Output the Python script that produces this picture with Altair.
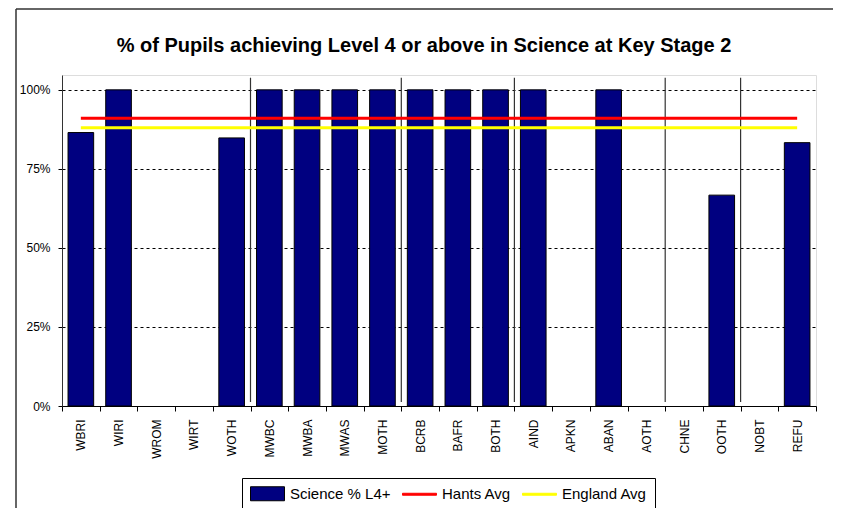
import altair as alt
import pandas as pd

categories = ["WBRI", "WIRI", "WROM", "WIRT", "WOTH", "MWBC", "MWBA", "MWAS", "MOTH",
              "BCRB", "BAFR", "BOTH", "AIND", "APKN", "ABAN", "AOTH", "CHNE", "OOTH",
              "NOBT", "REFU"]
science = [0.865, 1.0, 0.0, 0.0, 0.848, 1.0, 1.0, 1.0, 1.0,
           1.0, 1.0, 1.0, 1.0, 0.0, 1.0, 0.0, 0.0, 0.667,
           0.0, 0.833]
hants_avg = 0.91
england_avg = 0.88
group_starts = ["MWBC", "BCRB", "AIND", "CHNE", "NOBT"]
series_names = ["Science % L4+", "Hants Avg", "England Avg"]
tick_values = [0, 0.25, 0.5, 0.75, 1.0]

FONT = "Liberation Sans"

bars_df = pd.DataFrame({"cat": categories, "value": science})
avg_df = pd.DataFrame({
    "cat": categories * 2,
    "value": [hants_avg] * len(categories) + [england_avg] * len(categories),
    "series": ["Hants Avg"] * len(categories) + ["England Avg"] * len(categories),
})
sep_df = pd.DataFrame({"cat": group_starts, "lo": [0.013] * len(group_starts), "hi": [1.038] * len(group_starts)})
legend_df = pd.DataFrame({"series": series_names, "cat": [categories[0]] * 3, "value": [0.5] * 3})
frame_df = pd.DataFrame({"frame": [1]})

x_scale = alt.Scale(domain=categories, paddingInner=0, paddingOuter=0)
y_scale = alt.Scale(domain=[0, 1.047], nice=False)

x_axis = alt.Axis(title=None, labelAngle=-90, tickBand="extent", grid=False,
                  labelFont=FONT, labelFontSize=12, labelColor="black", labelPadding=8,
                  tickColor="black", tickSize=5, domainColor="black")
y_axis = alt.Axis(title=None, values=tick_values, format=".0%", grid=True,
                  gridColor="black", gridDash=[3, 3], gridWidth=1,
                  labelFont=FONT, labelFontSize=12, labelColor="black", labelPadding=8,
                  tickColor="black", tickSize=4, domainColor="#333333")

bars = alt.Chart(bars_df).transform_filter("datum.value > 0").mark_bar(
    width=alt.RelativeBandSize(0.68), color="#000080", stroke="black", strokeWidth=1
).encode(
    x=alt.X("cat:N", scale=x_scale, axis=x_axis, sort=categories),
    y=alt.Y("value:Q", scale=y_scale, axis=y_axis),
)

seps = alt.Chart(sep_df).mark_rule(color="#333333", strokeWidth=1.2).encode(
    x=alt.X("cat:N", scale=x_scale, sort=categories, bandPosition=0),
    y=alt.Y("lo:Q", scale=y_scale),
    y2="hi:Q",
)

hants = alt.Chart(avg_df[avg_df.series == "Hants Avg"]).mark_line(color="#FF0000", strokeWidth=3).encode(
    x=alt.X("cat:N", scale=x_scale, sort=categories),
    y=alt.Y("value:Q", scale=y_scale),
)
england = alt.Chart(avg_df[avg_df.series == "England Avg"]).mark_line(color="#FFFF00", strokeWidth=3).encode(
    x=alt.X("cat:N", scale=x_scale, sort=categories),
    y=alt.Y("value:Q", scale=y_scale),
)

legend = alt.Legend(
    title=None, orient="none", legendX=180, legendY=403, direction="horizontal",
    strokeColor="black", fillColor="white", padding=8, columnPadding=9,
    labelFont=FONT, labelFontSize=15, labelColor="black", labelOffset=25,
    symbolSize=196, symbolStrokeWidth=1, symbolOpacity=1,
)
box_path = "M-1,-1H3.857V1H-1Z"
line_path = "M-1,-0.14H3.857V0.14H-1Z"

legend_layer = alt.Chart(legend_df).mark_point(filled=True, opacity=0).encode(
    x=alt.X("cat:N", scale=x_scale, sort=categories),
    y=alt.Y("value:Q", scale=y_scale),
    fill=alt.Fill("series:N", sort=series_names, legend=legend,
                  scale=alt.Scale(domain=series_names, range=["#000080", "#FF0000", "#FFFF00"])),
    stroke=alt.Stroke("series:N", sort=series_names, legend=legend,
                      scale=alt.Scale(domain=series_names, range=["#000000", "#FF0000", "#FFFF00"])),
    shape=alt.Shape("series:N", sort=series_names, legend=legend,
                    scale=alt.Scale(domain=series_names, range=[box_path, line_path, line_path])),
)

frame_left = alt.Chart(frame_df).mark_rule(color="#333333", strokeWidth=1.5).encode(
    x=alt.value(-46), y=alt.value(-66), y2=alt.value(460))
frame_top = alt.Chart(frame_df).mark_rule(color="#333333", strokeWidth=1.5).encode(
    x=alt.value(-46), x2=alt.value(771), y=alt.value(-66))

chart = alt.layer(seps, bars, hants, england, legend_layer, frame_left, frame_top).properties(
    width=754, height=331,
    title=alt.TitleParams("% of Pupils achieving Level 4 or above in Science at Key Stage 2",
                          font=FONT, fontSize=20, fontWeight="bold", color="black",
                          anchor="middle", frame="group", offset=-48, dx=-15),
    autosize=alt.AutoSizeParams(type="none"),
    padding={"left": 54, "top": 67, "right": 17, "bottom": 102},
).configure_view(stroke="#808080", strokeWidth=1).configure(background="white")

chart.save("out.html", embed_options={"renderer": "svg", "actions": False})
